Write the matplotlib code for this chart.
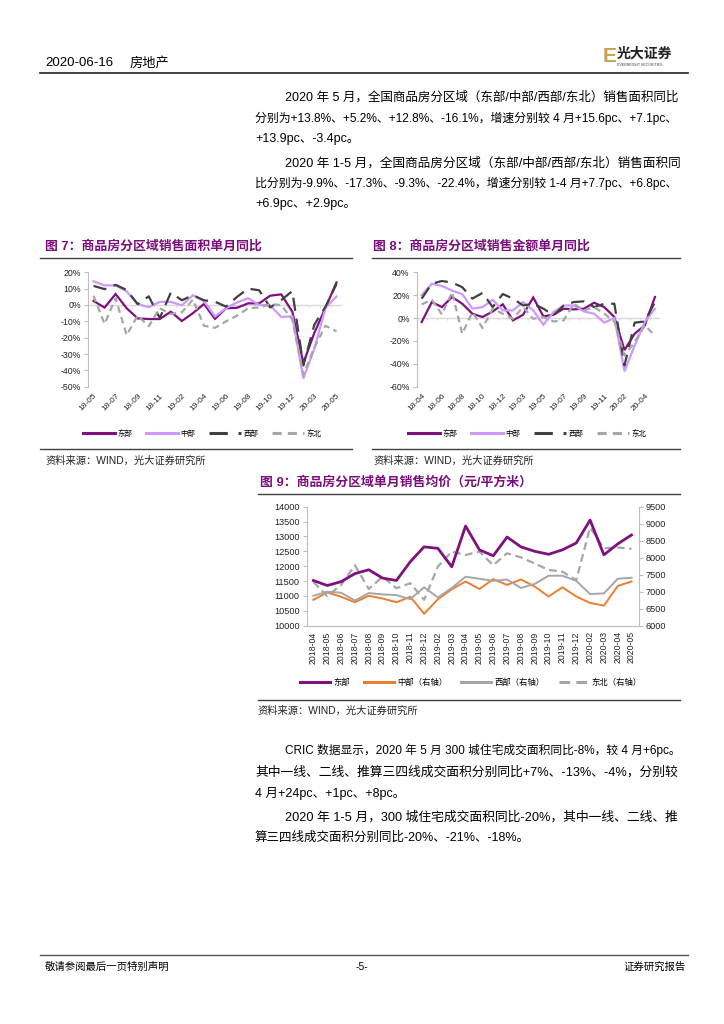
import numpy as np
import matplotlib
matplotlib.use("Agg")
import matplotlib.pyplot as plt
from matplotlib.lines import Line2D

plt.rcParams['font.family'] = ['Liberation Sans', 'Noto Sans CJK SC', 'DejaVu Sans']
plt.rcParams['axes.unicode_minus'] = False

W, H = 724, 1024

# ---------------- data ----------------
regions = ['东部', '中部', '西部', '东北']
months7 = ['18-05', '18-06', '18-07', '18-08', '18-09', '18-10', '18-11', '18-12',
           '19-02', '19-03', '19-04', '19-05', '19-06', '19-07', '19-08', '19-09', '19-10', '19-11', '19-12',
           '20-02', '20-03', '20-04', '20-05']
area_east = [2.5, -1.6, 6.7, -2.0, -8.2, -8.6, -8.6, -4.1, -9.8, -5.0, 0.6, -8.5, -2.0, -1.7, 1.0, 1.0, 5.7, 6.5, -4.1, -35.5, -17.0, -1.8, 13.8]
area_mid = [14.5, 12.0, 12.0, 8.3, 0.6, -1.4, 1.9, 1.9, -0.2, 6.0, 2.3, -7.0, -2.0, 1.6, 4.1, 0.0, -0.3, -7.3, -7.0, -45.0, -26.6, -1.9, 5.2]
area_west = [11.7, 9.7, 12.3, 9.2, 0.5, 5.3, -8.0, 7.6, 2.9, 6.0, 2.9, 2.0, -1.0, 5.0, 10.0, 9.0, -1.5, 3.0, 8.5, -37.0, -12.0, -1.1, 12.8]
area_ne = [5.7, -11.6, 4.1, -18.4, -6.5, -13.0, -2.0, -5.5, -4.5, 3.3, -12.7, -14.0, -10.0, -6.5, -2.0, -1.5, 0.5, 0.0, -9.0, -42.5, -26.0, -12.7, -16.1]

months8 = ['18-04', '18-05', '18-06', '18-07', '18-08', '18-09', '18-10', '18-11', '18-12',
           '19-02', '19-03', '19-04', '19-05', '19-06', '19-07', '19-08', '19-09', '19-10', '19-11', '19-12',
           '20-02', '20-03', '20-04', '20-05']
amt_east = [-3.5, 14.0, 9.6, 18.4, 12.5, 3.8, 0.9, 5.8, 12.0, -2.0, 2.9, 18.0, 1.5, 2.9, 8.2, 7.6, 8.2, 13.4, 9.6, 0.9, -28.0, -13.7, -6.4, 18.4]
amt_mid = [20.0, 30.0, 28.0, 24.0, 21.0, 8.2, 9.6, 16.0, 6.7, 6.7, 14.0, 6.7, -5.8, 5.2, 11.0, 11.0, 5.8, 3.8, -4.0, 0.0, -46.6, -24.0, -3.5, 8.2]
amt_west = [17.0, 30.0, 32.4, 31.0, 27.0, 17.0, 22.0, 9.6, 21.0, 17.0, 11.0, 12.5, 8.2, 2.3, 11.0, 14.0, 14.6, 9.6, 12.5, 12.5, -41.4, -4.0, -3.0, 14.0]
amt_ne = [12.0, 16.0, 3.2, 22.7, -13.7, 5.2, -8.7, 8.2, 3.8, -0.6, 9.6, -0.6, 0.9, -3.0, -2.0, 12.5, 6.7, 9.6, 3.8, -3.0, -32.7, -21.0, -6.4, -15.2]

months9 = ['2018-04', '2018-05', '2018-06', '2018-07', '2018-08', '2018-09', '2018-10', '2018-11', '2018-12',
           '2019-02', '2019-03', '2019-04', '2019-05', '2019-06', '2019-07', '2019-08', '2019-09', '2019-10',
           '2019-11', '2019-12', '2020-02', '2020-03', '2020-04', '2020-05']
price_east = [11520, 11350, 11480, 11750, 11880, 11600, 11520, 12150, 12650, 12600, 11980, 13350, 12550, 12350, 12980, 12650, 12500, 12400, 12550, 12780, 13550, 12380, 12750, 13050]
price_mid = [6760, 6980, 6850, 6690, 6880, 6800, 6690, 6850, 6350, 6780, 7070, 7300, 7080, 7370, 7200, 7360, 7150, 6860, 7130, 6860, 6670, 6590, 7170, 7300]
price_west = [6880, 7000, 6970, 6740, 6960, 6920, 6900, 6780, 7130, 6830, 7110, 7440, 7380, 7320, 7360, 7110, 7230, 7470, 7470, 7320, 6930, 6950, 7380, 7410]
price_ne = [7290, 6870, 7200, 7780, 7080, 7440, 7100, 7250, 6760, 7740, 8180, 8080, 8180, 7780, 8130, 8010, 7830, 7640, 7590, 7340, 8890, 8280, 8300, 8260]
labels9 = ['东部', '中部（右轴）', '西部（右轴）', '东北（右轴）']

# ---------------- styles ----------------
PURPLE = '#7E1080'
LPURPLE = '#CC99FF'
DGRAY = '#404040'
LGRAY = '#A6A6A6'
ORANGE = '#ED7D31'
TITLE_C = '#7A0E7A'
AXC = '#BFBFBF'

fig = plt.figure(figsize=(W / 100, H / 100), dpi=100)
renderer = fig.canvas.get_renderer()


def px_axes(left, top, right, bottom):
    return fig.add_axes([left / W, 1 - bottom / H, (right - left) / W, (bottom - top) / H])


def T(x, y, s, size=9, **kw):
    kw.setdefault('va', 'center')
    kw.setdefault('ha', 'left')
    return fig.text(x / W, 1 - y / H, s, fontsize=size, **kw)


def TFIT(x, y, s, size, right=680):
    """Body text line, size nudged so a full line ends near the right margin."""
    t = T(x, y, s, size)
    w = t.get_window_extent(renderer).width
    target = right - x
    scale = min(max(target / w, 0.92), 1.06)
    t.set_fontsize(size * scale)
    return t


def HL(x0, x1, y, color=DGRAY, lw=1.0):
    fig.add_artist(Line2D([x0 / W, x1 / W], [1 - y / H, 1 - y / H], color=color, lw=lw,
                          transform=fig.transFigure))


# ---------------- header / footer ----------------
T(45, 63, '2020-06-16', 9.5)
T(130, 63, '房地产', 9.5)
HL(40, 688, 73, color='#333333', lw=1.3)
T(603, 57, 'E', 15, color='#C8A050', fontweight='bold')
T(617, 54, '光大证券', 10, fontweight='bold', color='#222222')
T(617, 65, 'EVERBRIGHT SECURITIES', 2.6, color='#444444')

HL(40, 688, 955, color='#555555', lw=1.0)
T(45, 967, '敬请参阅最后一页特别声明', 7.5)
T(362, 967, '-5-', 7.5, ha='center')
T(686, 967, '证券研究报告', 7.5, ha='right')

# ---------------- body text ----------------
BS = 9.0
TFIT(285, 97, '2020 年 5 月，全国商品房分区域（东部/中部/西部/东北）销售面积同比', BS)
TFIT(255, 118, '分别为+13.8%、+5.2%、+12.8%、-16.1%，增速分别较 4 月+15.6pc、+7.1pc、', BS)
T(255, 139, '+13.9pc、-3.4pc。', BS)
TFIT(285, 163, '2020 年 1-5 月，全国商品房分区域（东部/中部/西部/东北）销售面积同', BS)
TFIT(255, 183, '比分别为-9.9%、-17.3%、-9.3%、-22.4%，增速分别较 1-4 月+7.7pc、+6.8pc、', BS)
T(255, 204, '+6.9pc、+2.9pc。', BS)

TFIT(285, 750, 'CRIC 数据显示，2020 年 5 月 300 城住宅成交面积同比-8%，较 4 月+6pc。', BS)
TFIT(255, 772, '其中一线、二线、推算三四线成交面积分别同比+7%、-13%、-4%，分别较', BS)
T(255, 794, '4 月+24pc、+1pc、+8pc。', BS)
TFIT(285, 817, '2020 年 1-5 月，300 城住宅成交面积同比-20%，其中一线、二线、推', BS)
T(255, 838, '算三四线成交面积分别同比-20%、-21%、-18%。', BS)

# ---------------- chart titles / sources ----------------
TS = 9.3
T(45, 246, '图 7：商品房分区域销售面积单月同比', TS, color=TITLE_C, fontweight='bold')
T(373, 246, '图 8：商品房分区域销售金额单月同比', TS, color=TITLE_C, fontweight='bold')
T(260, 482, '图 9：商品房分区域单月销售均价（元/平方米）', TS, color=TITLE_C, fontweight='bold')
HL(40, 352, 258)
HL(372, 680, 258)
HL(258, 680, 494)
HL(40, 352, 449)
HL(372, 680, 449)
HL(258, 680, 700)
SRC = '资料来源：WIND，光大证券研究所'
T(45, 461, SRC, 7.4, color='#222222')
T(373, 461, SRC, 7.4, color='#222222')
T(258, 711, SRC, 7.4, color='#222222')


# ---------------- YoY charts ----------------
def yoy_chart(ax, months, series, ylo, yhi, step):
    n = len(months)
    x = np.arange(n)
    colors = [PURPLE, LPURPLE, DGRAY, LGRAY]
    handles = []
    for k, (vals, c) in enumerate(zip(series, colors)):
        ln, = ax.plot(x, vals, color=c, lw=1.6, solid_joinstyle='miter', label=regions[k])
        if k == 2:
            ln.set_dashes((6, 3.5))
        elif k == 3:
            ln.set_dashes((3, 2))
        handles.append(ln)
    ax.axhline(0, color='#D9D9D9', lw=1.0, zorder=0)
    ax.vlines(np.arange(-0.5, n), -1.2 * (yhi - ylo) / 70, 0, color='#D9D9D9', lw=0.8, zorder=0)
    ax.set_xlim(-0.5, n - 0.5)
    ax.set_ylim(ylo, yhi)
    ax.set_yticks(np.arange(ylo, yhi + 0.1, step))
    ax.set_yticklabels([f'{int(v)}%' for v in np.arange(ylo, yhi + 0.1, step)])
    ax.set_xticks(x[::2])
    ax.set_xticklabels(months[::2], rotation=45, ha='right', va='top', rotation_mode='anchor')
    for s in ['top', 'right', 'bottom']:
        ax.spines[s].set_visible(False)
    ax.spines['left'].set_color(AXC)
    ax.tick_params(axis='y', length=3, color=AXC, labelsize=6.3, pad=2, labelcolor='#222222')
    ax.tick_params(axis='x', length=0, labelsize=6.0, pad=4, labelcolor='#222222')
    ax.patch.set_alpha(0)
    return handles


ax7 = px_axes(88, 272.3, 342, 386.7)
h7 = yoy_chart(ax7, months7, [area_east, area_mid, area_west, area_ne], -50, 20, 10)
leg_kw = dict(ncol=4, frameon=False, fontsize=5.4, handlelength=4.3, handletextpad=0.3, columnspacing=1.8)
lg7 = fig.legend(handles=h7, loc='center', bbox_to_anchor=(202 / W, 1 - 434 / H), **leg_kw)

ax8 = px_axes(416.6, 272.3, 660, 386.7)
h8 = yoy_chart(ax8, months8, [amt_east, amt_mid, amt_west, amt_ne], -60, 40, 20)
lg8 = fig.legend(handles=h8, loc='center', bbox_to_anchor=(527 / W, 1 - 434 / H), **leg_kw)
for lg in (lg7, lg8):
    for hl in lg.legend_handles:
        hl.set_linewidth(2.2)

# ---------------- price chart ----------------
ax9 = px_axes(306.5, 506.7, 638.5, 625.7)
ax9r = ax9.twinx()
x9 = np.arange(len(months9))
l1, = ax9.plot(x9, price_east, color=PURPLE, lw=2.0, label=labels9[0])
l2, = ax9r.plot(x9, price_mid, color=ORANGE, lw=1.4, label=labels9[1])
l3, = ax9r.plot(x9, price_west, color=LGRAY, lw=1.4, label=labels9[2])
l4, = ax9r.plot(x9, price_ne, color=LGRAY, lw=1.6, label=labels9[3])
l4.set_dashes((3.5, 2))
ax9.set_zorder(ax9r.get_zorder() + 1)
ax9.patch.set_visible(False)
ax9.set_xlim(-0.5, len(months9) - 0.5)
ax9.set_ylim(10000, 14000)
ax9.set_yticks(np.arange(10000, 14001, 500))
ax9r.set_ylim(6000, 9500)
ax9r.set_yticks(np.arange(6000, 9501, 500))
ax9.set_xticks(x9)
ax9.set_xticklabels(months9, rotation=90, va='top', ha='center')
for a in (ax9, ax9r):
    a.spines['top'].set_visible(False)
    for s in ['left', 'right', 'bottom']:
        a.spines[s].set_color(AXC)
ax9.spines['right'].set_visible(False)
ax9r.spines['left'].set_visible(False)
ax9.tick_params(axis='y', length=3, color=AXC, labelsize=6.6, pad=2, labelcolor='#222222')
ax9r.tick_params(axis='y', length=3, color=AXC, labelsize=6.6, pad=2, labelcolor='#222222')
ax9.tick_params(axis='x', length=0, labelsize=6.3, pad=4, labelcolor='#222222')
lg9 = fig.legend(handles=[l1, l2, l3, l4], loc='center', bbox_to_anchor=(471 / W, 1 - 683 / H), ncol=4,
                 frameon=False, fontsize=6.0, handlelength=3.6, handletextpad=0.35, columnspacing=1.7)
for hl in lg9.legend_handles:
    hl.set_linewidth(2.2)

fig.savefig('out.png', dpi=100)
